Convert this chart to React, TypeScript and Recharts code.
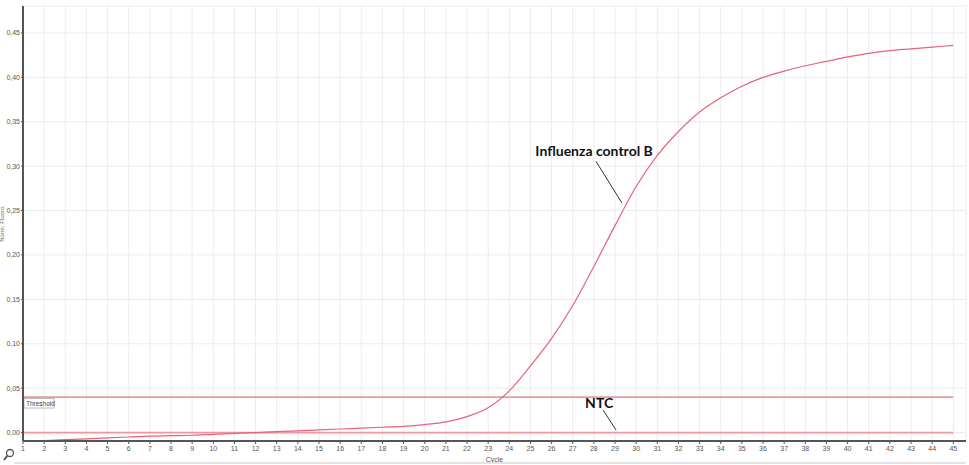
import { LineChart, Line, XAxis, YAxis, CartesianGrid, ReferenceLine, ReferenceDot, Label } from 'recharts';

// amplification run, normalised fluorescence per cycle
const cycles = [
  1, 2, 3, 4, 5, 6, 7, 8, 9, 10, 11, 12, 13, 14, 15, 16, 17, 18, 19, 20, 21, 22, 23,
  24, 25, 26, 27, 28, 29, 30, 31, 32, 33, 34, 35, 36, 37, 38, 39, 40, 41, 42, 43, 44, 45,
];
const influenzaB = [
  -0.010, -0.009, -0.008, -0.007, -0.006, -0.005, -0.004, -0.0035, -0.003, -0.002,
  -0.001, 0.000, 0.001, 0.002, 0.003, 0.004, 0.005, 0.006, 0.007, 0.009, 0.012, 0.018,
  0.028, 0.047, 0.075, 0.106, 0.143, 0.187, 0.233, 0.277, 0.312, 0.339, 0.361, 0.377,
  0.390, 0.400, 0.407, 0.413, 0.418, 0.423, 0.427, 0.430, 0.432, 0.434, 0.436,
];
const ntc = [
  0, 0, 0, 0, 0, 0, 0, 0, 0, 0, 0, 0, 0, 0, 0, 0, 0, 0, 0, 0, 0, 0, 0,
  0, 0, 0, 0, 0, 0, 0, 0, 0, 0, 0, 0, 0, 0, 0, 0, 0, 0, 0, 0, 0, 0,
];
const threshold = 0.04;
const yTicks = [0, 0.05, 0.1, 0.15, 0.2, 0.25, 0.3, 0.35, 0.4, 0.45];

const data = cycles.map((c, i) => ({ cycle: c, flu: influenzaB[i], ntc: ntc[i] }));

const RED = '#e8627a';
const PINK = '#f1979f';
const AXIS = '#555';
const tickStyle = { fontSize: 7, fill: '#555', fontFamily: 'Liberation Sans, Arial, sans-serif' };

const ThresholdTag = (props: any) => {
  const { viewBox } = props;
  if (!viewBox) return null;
  return (
    <g>
      <rect x={viewBox.x + 1} y={viewBox.y + 1.5} width={30} height={9.5} fill="#fff" stroke="#aaa" strokeWidth={0.8} />
      <text x={viewBox.x + 3} y={viewBox.y + 8.8} fontSize={6.5} fill="#444" fontFamily="Liberation Sans, Arial, sans-serif">
        Threshold
      </text>
    </g>
  );
};

const annotationFont = { fontFamily: 'Lato, sans-serif', fontSize: 14, fontWeight: 700, fill: '#111' };

export default function App() {
  return (
    <div style={{ position: 'absolute', left: 0, top: 0, width: 969, height: 465, background: '#fff' }}>
      <LineChart width={969} height={463} data={data} margin={{ top: 6, right: 3, bottom: 0, left: 0 }}>
        <CartesianGrid stroke="#ececec" strokeWidth={1} />
        <XAxis
          dataKey="cycle"
          type="number"
          domain={[1, 45.6]}
          ticks={cycles}
          interval={0}
          allowDataOverflow
          height={22}
          tick={tickStyle}
          tickSize={3}
          tickMargin={2}
          stroke={AXIS}
          axisLine={{ stroke: AXIS, strokeWidth: 2 }}
          tickLine={{ stroke: AXIS }}
        >
          <Label value="Cycle" position="insideBottom" offset={1} style={{ fontSize: 7, fill: '#555', fontFamily: 'Liberation Sans, Arial, sans-serif' }} />
        </XAxis>
        <XAxis xAxisId="top" orientation="top" type="number" domain={[1, 45.6]} height={0} tick={false} tickLine={false} axisLine={{ stroke: '#999' }} />
        <YAxis
          type="number"
          domain={[-0.0095, 0.4803]}
          ticks={yTicks}
          allowDataOverflow
          width={23}
          tick={tickStyle}
          tickFormatter={(v: number) => v.toFixed(2).replace('.', ',')}
          tickSize={2}
          tickMargin={1}
          axisLine={{ stroke: AXIS, strokeWidth: 2 }}
          tickLine={{ stroke: AXIS }}
        >
          <Label value="Norm. Fluoro." angle={-90} position="insideLeft" offset={2} style={{ fontSize: 6, fill: '#666', fontFamily: 'Liberation Sans, Arial, sans-serif', textAnchor: 'middle' }} />
        </YAxis>
        <YAxis yAxisId="right" orientation="right" width={0} domain={[-0.0095, 0.4803]} tick={false} tickLine={false} axisLine={{ stroke: '#999' }} />

        <ReferenceLine
          segment={[{ x: 1, y: threshold }, { x: 45, y: threshold }]}
          stroke={PINK}
          strokeWidth={1.8}
          label={<ThresholdTag />}
        />
        <Line dataKey="ntc" stroke={PINK} strokeWidth={1.8} dot={false} isAnimationActive={false} />
        <Line dataKey="flu" type="monotone" stroke={RED} strokeWidth={1.2} dot={false} isAnimationActive={false} />

        <ReferenceLine segment={[{ x: 28.1, y: 0.3054 }, { x: 29.33, y: 0.2584 }]} stroke="#333" strokeWidth={1} />
        <ReferenceDot x={28.01} y={0.3166} r={0} fill="none" stroke="none">
          <Label value="Influenza control B" position="center" style={annotationFont} />
        </ReferenceDot>
        <ReferenceLine segment={[{ x: 28.44, y: 0.0252 }, { x: 29.05, y: 0.0028 }]} stroke="#333" strokeWidth={1} />
        <ReferenceDot x={28.25} y={0.0331} r={0} fill="none" stroke="none">
          <Label value="NTC" position="center" style={annotationFont} />
        </ReferenceDot>
      </LineChart>
      <svg width={14} height={14} style={{ position: 'absolute', left: 2, top: 448 }}>
        <circle cx={8} cy={5} r={3.5} fill="none" stroke="#555" strokeWidth={1.3} />
        <line x1={5.5} y1={7.5} x2={2} y2={12} stroke="#555" strokeWidth={2} />
      </svg>
      <div style={{ position: 'absolute', left: 14, top: 462, width: 952, height: 2, background: '#e3e3e3' }} />
    </div>
  );
}
